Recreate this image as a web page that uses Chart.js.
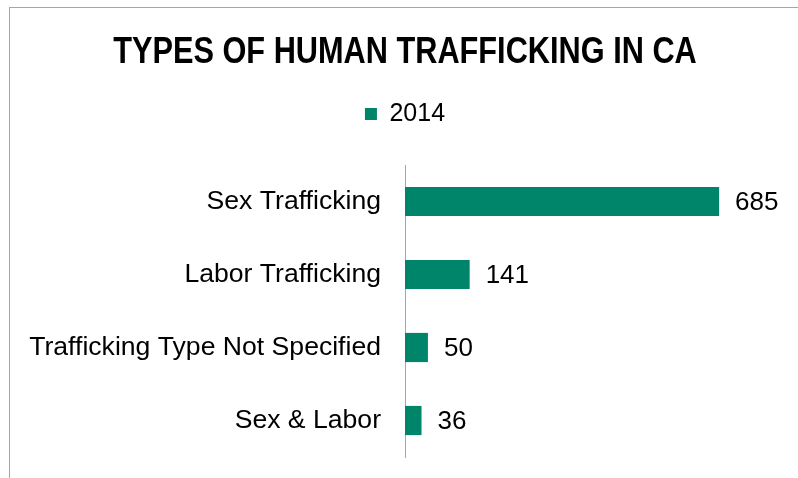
<!DOCTYPE html>
<html>
<head>
<meta charset="utf-8">
<script src="https://cdn.jsdelivr.net/npm/chart.js@4.4.1/dist/chart.umd.min.js"></script>
<style>
  html, body { margin: 0; padding: 0; background: #fff; overflow: hidden; }
  #wrap { position: relative; width: 798px; height: 478px; }
  #frame { position: absolute; left: 9px; top: 7px; width: 820px; height: 500px;
           border-left: 1px solid #a6a6a6; border-top: 1px solid #a6a6a6; pointer-events: none; }
  canvas { position: absolute; left: 0; top: 0; }
</style>
</head>
<body>
<div id="wrap">
  <canvas id="c" width="798" height="478"></canvas>
  <div id="frame"></div>
</div>
<script>
const categories = ["Sex Trafficking", "Labor Trafficking", "Trafficking Type Not Specified", "Sex & Labor"];
const seriesName = "2014";
const values2014 = [685, 141, 50, 36];
const titleText = "TYPES OF HUMAN TRAFFICKING IN CA";

const barColor = "#00846A";
const titleFont = { family: "'Liberation Sans', Arial, sans-serif", size: 37, weight: 'bold', lineHeight: 1.2 };
const titleScaleX = 0.83;

// Draws the title condensed (narrow face), using the title block laid out by Chart.js
const narrowTitle = {
  id: 'narrowTitle',
  afterDraw(chart) {
    const tb = chart.titleBlock;
    if (!tb) return;
    const pad = tb.options.padding;
    const lh = titleFont.size * titleFont.lineHeight;
    const cx = (tb.left + tb.right) / 2;
    const cy = tb.top + pad.top + lh / 2;
    const ctx = chart.ctx;
    ctx.save();
    ctx.font = "bold " + titleFont.size + "px " + titleFont.family;
    ctx.fillStyle = "#000";
    ctx.textAlign = "center";
    ctx.textBaseline = "middle";
    ctx.translate(cx, cy);
    ctx.scale(titleScaleX, 1);
    ctx.fillText(tb.options.text, 0, 0);
    ctx.restore();
  }
};

const valueLabels = {
  id: 'valueLabels',
  afterDatasetsDraw(chart) {
    const ctx = chart.ctx;
    ctx.save();
    ctx.font = "26px 'Liberation Sans', Arial, sans-serif";
    ctx.fillStyle = "#000";
    ctx.textAlign = "left";
    ctx.textBaseline = "middle";
    chart.data.datasets.forEach((ds, i) => {
      chart.getDatasetMeta(i).data.forEach((bar, j) => {
        ctx.fillText(String(ds.data[j]), bar.x + 16, bar.y + 1);
      });
    });
    ctx.restore();
  }
};

new Chart(document.getElementById('c'), {
  type: 'bar',
  data: {
    labels: categories,
    datasets: [{
      label: seriesName,
      data: values2014,
      backgroundColor: barColor,
      borderWidth: 0,
      categoryPercentage: 0.8,
      barPercentage: 0.5
    }]
  },
  options: {
    indexAxis: 'y',
    responsive: false,
    animation: false,
    layout: { padding: { left: 12, right: 0, top: 0, bottom: 21 } },
    plugins: {
      title: {
        display: true,
        text: titleText,
        color: 'rgba(0,0,0,0)',
        font: titleFont,
        padding: { top: 30.5, bottom: 16.5 }
      },
      legend: {
        display: true,
        position: 'top',
        labels: {
          boxWidth: 12,
          boxHeight: 12,
          color: '#000',
          font: { family: "'Liberation Sans', Arial, sans-serif", size: 25 },
          padding: 10
        }
      },
      tooltip: { enabled: false }
    },
    scales: {
      x: {
        position: 'top',
        min: 0,
        max: 857,
        display: true,
        grid: { display: false, drawTicks: false },
        border: { display: false },
        ticks: { display: false },
        afterFit(scale) { scale.height = 28.6; }
      },
      y: {
        grid: { display: false, drawTicks: false },
        border: { display: true, color: '#a6a6a6', width: 1 },
        ticks: {
          color: '#000',
          padding: 24,
          font: { family: "'Liberation Sans', Arial, sans-serif", size: 26.6 }
        },
        afterFit(scale) {
          scale.width = 393;
          scale.paddingTop = 0;
          scale.paddingBottom = 0;
        }
      }
    }
  },
  plugins: [valueLabels, narrowTitle]
});
</script>
</body>
</html>
